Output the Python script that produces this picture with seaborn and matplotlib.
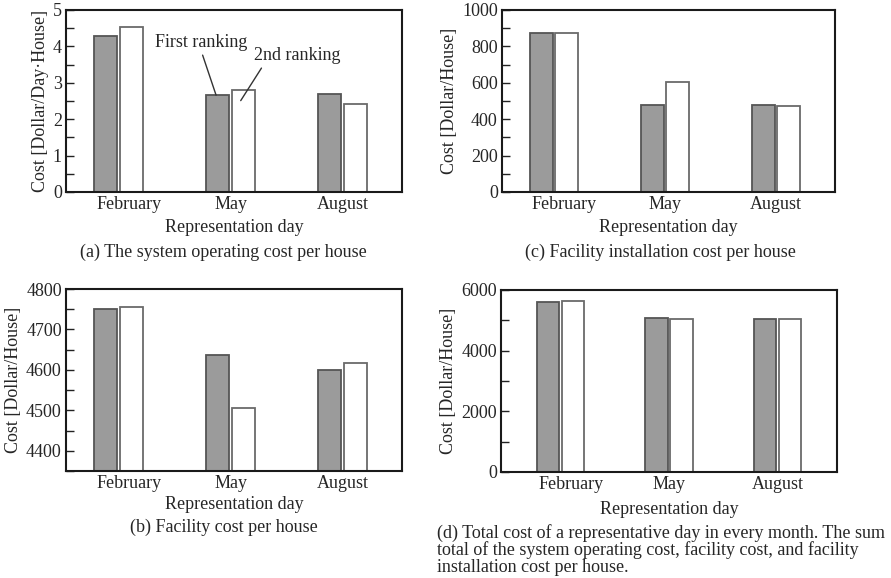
import matplotlib
matplotlib.use("Agg")
import matplotlib.pyplot as plt
import matplotlib.transforms as mtransforms
from matplotlib.ticker import MultipleLocator
import seaborn as sns
import pandas as pd

# ---------------- data ----------------
months = ["February", "May", "August"]
rankings = ["First ranking", "2nd ranking"]

operating_first = [4.29, 2.66, 2.68]
operating_second = [4.52, 2.79, 2.41]

facility_first = [4751, 4638, 4600]
facility_second = [4756, 4506, 4618]

install_first = [875, 476, 476]
install_second = [875, 604, 473]

total_first = [5605, 5090, 5040]
total_second = [5640, 5060, 5060]

captions = {
    "a": "(a) The system operating cost per house",
    "b": "(b) Facility cost per house",
    "c": "(c) Facility installation cost per house",
    "d": ["(d) Total cost of a representative day in every month. The sum",
          "total of the system operating cost, facility cost, and facility",
          "installation cost per house."],
}

# ---------------- style ----------------
sns.set_style("white")
plt.rcParams["font.family"] = ["Liberation Serif", "DejaVu Serif"]
FS = 13
GRAY = "#9b9b9b"
WHITE = "#ffffff"

W, H = 891, 578
fig = plt.figure(figsize=(W / 100, H / 100), dpi=100)


def px_axes(l, t, r, b):
    return fig.add_axes([l / W, (H - b) / H, (r - l) / W, (b - t) / H])


def panel(ax, first, second, ylim, major, minor, ylabel, xlim, xlabelpad=4.2):
    df = pd.DataFrame({
        "month": months * 2,
        "ranking": [rankings[0]] * len(months) + [rankings[1]] * len(months),
        "cost": list(first) + list(second),
    })
    sns.barplot(data=df, x="month", y="cost", hue="ranking", order=months,
                hue_order=rankings, palette=[GRAY, WHITE], saturation=1,
                width=0.46, gap=0.1, legend=False, ax=ax, linewidth=1.3,
                edgecolor="#555555")
    for p in ax.containers[1]:
        p.set_edgecolor("#6a6a6a")
    ax.set_xlim(*xlim)
    ax.set_ylim(*ylim)
    ax.yaxis.set_major_locator(MultipleLocator(major))
    ax.yaxis.set_minor_locator(MultipleLocator(minor))
    ax.tick_params(axis="y", which="both", direction="in", left=True,
                   right=False, length=6, width=1, labelsize=FS, pad=3,
                   color="#222222")
    ax.tick_params(axis="x", length=0, labelsize=FS, pad=3)
    for s in ax.spines.values():
        s.set_visible(True)
        s.set_linewidth(1.5)
        s.set_color("#1a1a1a")
    ax.set_xlabel("Representation day", fontsize=FS, labelpad=xlabelpad)
    ax.set_ylabel(ylabel, fontsize=FS, labelpad=3)
    # February label sits slightly right of its bars in the reference
    lab = ax.xaxis.get_major_ticks()[0].label1
    lab.set_transform(lab.get_transform() +
                      mtransforms.ScaledTranslation(0.10, 0, fig.dpi_scale_trans))


ax_a = px_axes(66, 10, 402, 192)
panel(ax_a, operating_first, operating_second, (0, 5), 1, 0.5,
      "Cost [Dollar/Day·House]", (-0.47, 2.53))

ax_c = px_axes(502, 10, 835, 192)
panel(ax_c, install_first, install_second, (0, 1000), 200, 100,
      "Cost [Dollar/House]", (-0.47, 2.53))

ax_b = px_axes(66, 289, 402, 471)
panel(ax_b, facility_first, facility_second, (4350, 4800), 100, 50,
      "Cost [Dollar/House]", (-0.47, 2.53), xlabelpad=3)

ax_d = px_axes(501, 290, 837, 472)
panel(ax_d, total_first, total_second, (0, 6000), 2000, 1000,
      "Cost [Dollar/House]", (-0.55, 2.55), xlabelpad=5.5)

# annotations in (a)
ax_a.annotate(rankings[0], xy=(0.87, operating_first[1]), xytext=(0.736, 4.12),
              ha="center", va="center", fontsize=FS,
              arrowprops=dict(arrowstyle="-", color="#333333", lw=1,
                              relpos=(0.5, 0.0), shrinkA=1, shrinkB=0))
ax_a.annotate(rankings[1], xy=(1.09, operating_second[1] - 0.28),
              xytext=(1.594, 3.76), ha="center", va="center", fontsize=FS,
              arrowprops=dict(arrowstyle="-", color="#333333", lw=1,
                              relpos=(0.12, 0.0), shrinkA=1, shrinkB=0))

# captions
fig.text(223 / W, 1 - 252 / H, captions["a"], ha="center", va="center", fontsize=FS)
fig.text(660 / W, 1 - 252 / H, captions["c"], ha="center", va="center", fontsize=FS)
fig.text(224 / W, 1 - 527 / H, captions["b"], ha="center", va="center", fontsize=FS)
for i, line in enumerate(captions["d"]):
    fig.text(437 / W, 1 - (533 + 17 * i) / H, line, ha="left", va="center",
             fontsize=FS)

fig.savefig("out.png", dpi=100)
